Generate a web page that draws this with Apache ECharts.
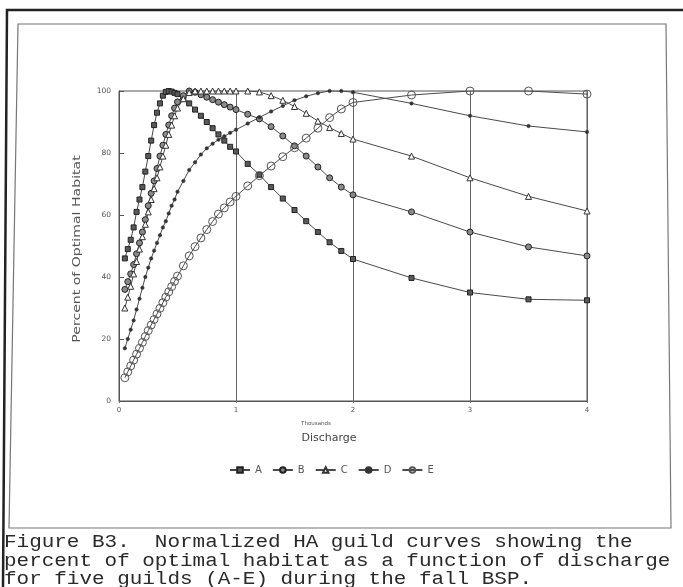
<!DOCTYPE html>
<html>
<head>
<meta charset="utf-8">
<title>Figure B3</title>
<script src="https://cdn.jsdelivr.net/npm/echarts@6/dist/echarts.min.js"></script>
<style>
  html, body { margin: 0; padding: 0; background: #ffffff; }
  #chart { width: 683px; height: 587px; }
</style>
</head>
<body>
<div id="chart"></div>
<script>
// Discharge (thousands of cfs) at which each guild curve was evaluated
const discharge = [
  0.05, 0.075, 0.1, 0.125, 0.15, 0.175, 0.2, 0.225, 0.25, 0.275,
  0.3, 0.325, 0.35, 0.375, 0.4, 0.425, 0.45, 0.475, 0.5,
  0.55, 0.6, 0.65, 0.7, 0.75, 0.8, 0.85, 0.9, 0.95, 1.0,
  1.1, 1.2, 1.3, 1.4, 1.5, 1.6, 1.7, 1.8, 1.9, 2.0,
  2.5, 3.0, 3.5, 4.0
];

// Percent of optimal habitat for each guild
const guildA = [
  46, 49, 52, 56, 61, 65, 69, 74, 79, 84,
  89, 93, 96, 98.5, 99.7, 100, 99.8, 99.4, 99,
  97.5, 96, 94, 92, 90, 88, 86, 84, 82, 80.5,
  76.5, 73, 69, 65.3, 61.6, 58, 54.5, 51.2, 48.4, 45.8,
  39.7, 35, 32.8, 32.5
];
const guildB = [
  36, 38.5, 41, 44, 47.5, 51, 54.5, 58.5, 63, 67,
  71, 75, 79, 82.5, 86, 89, 92, 94.5, 96.5,
  98.5, 100, 99.6, 98.8, 98, 97.2, 96.4, 95.6, 94.8, 94,
  92.5, 91, 88.5, 85.5, 82.3, 79, 75.5, 72, 69, 66.5,
  61, 54.5, 49.7, 46.8
];
const guildC = [
  30, 33.5, 37, 41, 45, 49, 53, 57, 61, 65,
  68.5, 72, 75.5, 79, 82.5, 86, 89, 92, 94.5,
  97.5, 99.5, 100, 100, 100, 100, 100, 100, 100, 100,
  100, 99.7, 98.5, 97, 95, 92.8, 90.3, 88.2, 86.3, 84.5,
  79, 72, 66, 61.3
];
const guildD = [
  17, 20, 23, 26, 29.5, 33, 36.5, 40, 43, 46,
  48.5, 51, 53.5, 56, 58, 60.5, 63, 65, 67.5,
  71, 74.5, 77, 79.5, 81.5, 83, 84.3, 85.4, 86.5, 87.5,
  89.5, 91.5, 93.4, 95.2, 97, 98.3, 99.3, 100, 100, 99.6,
  96, 92, 88.7, 86.8
];
const guildE = [
  7.5, 9.4, 11.3, 13.2, 15.1, 17, 18.9, 20.8, 22.7, 24.5,
  26.3, 28.1, 29.9, 31.7, 33.5, 35.2, 36.9, 38.6, 40.3,
  43.6, 46.8, 49.8, 52.6, 55.3, 57.9, 60.3, 62.3, 64.2, 66,
  69.4, 72.7, 75.8, 78.8, 81.7, 84.8, 88, 91.4, 94.2, 96.3,
  98.7, 100, 100, 99
];

const guildNames = ['A', 'B', 'C', 'D', 'E'];
const xTicks = [0, 1, 2, 3, 4];
const yTicks = [0, 20, 40, 60, 80, 100];

const captionLines = [
  'Figure B3.  Normalized HA guild curves showing the',
  'percent of optimal habitat as a function of discharge',
  'for five guilds (A-E) during the fall BSP.'
];

function pairs(values) {
  return discharge.map((d, i) => [d, values[i]]);
}

const lineColor = '#4a4a4a';
const markerStyles = {
  A: { symbol: 'rect', symbolSize: 5, itemStyle: { color: '#5a5a5a', borderColor: '#222', borderWidth: 1 } },
  B: { symbol: 'circle', symbolSize: 6, itemStyle: { color: '#8a8a8a', borderColor: '#222', borderWidth: 1 } },
  C: { symbol: 'triangle', symbolSize: 6, itemStyle: { color: '#ffffff', borderColor: '#333', borderWidth: 1 } },
  D: { symbol: 'circle', symbolSize: 3.5, itemStyle: { color: '#333', borderColor: '#333', borderWidth: 0.5 } },
  E: { symbol: 'circle', symbolSize: 8, itemStyle: { color: 'rgba(255,255,255,0)', borderColor: '#555', borderWidth: 1 } }
};
const seriesValues = { A: guildA, B: guildB, C: guildC, D: guildD, E: guildE };

const series = guildNames.map(name => Object.assign({
  name: name,
  type: 'line',
  data: pairs(seriesValues[name]),
  showAllSymbol: true,
  lineStyle: { color: lineColor, width: 1 },
  emphasis: { disabled: true },
  animation: false,
  z: 3
}, markerStyles[name]));

const captionFont = 18;
const captionScale = 12.57 / (captionFont * 0.6);

const chart = echarts.init(document.getElementById('chart'), null, { renderer: 'canvas' });

chart.setOption({
  backgroundColor: '#ffffff',
  animation: false,
  grid: {
    left: 119, right: 96, top: 91, bottom: 186,
    show: true, borderColor: '#555', borderWidth: 1, backgroundColor: 'transparent'
  },
  xAxis: {
    type: 'value', min: 0, max: 4, interval: 1,
    axisLine: { show: true, lineStyle: { color: '#555', width: 1 } },
    axisTick: { show: true, inside: false, length: 2, lineStyle: { color: '#777' } },
    axisLabel: {
      show: true, fontSize: 7, color: '#555', fontFamily: 'DejaVu Sans', margin: 6,
      formatter: v => xTicks.includes(v) ? String(v) : ''
    },
    splitLine: { show: true, lineStyle: { color: '#666', width: 1 } }
  },
  yAxis: {
    type: 'value', min: 0, max: 100, interval: 20,
    axisLine: { show: true, lineStyle: { color: '#555', width: 1 } },
    axisTick: { show: true, inside: true, length: 5, lineStyle: { color: '#555' } },
    axisLabel: {
      show: true, fontSize: 7.5, color: '#555', fontFamily: 'DejaVu Sans', margin: 8,
      formatter: v => yTicks.includes(v) ? String(v) : ''
    },
    splitLine: { show: false }
  },
  legend: {
    data: guildNames,
    left: 224, top: 460,
    itemWidth: 20, itemHeight: 7, itemGap: 10,
    textStyle: { fontSize: 10, color: '#555', fontFamily: 'DejaVu Sans' },
    selectedMode: false
  },
  graphic: [
    // outer border of the figure panel
    { type: 'polyline', shape: { points: [[3, 587], [7, 10], [683, 10]] }, style: { fill: 'none', stroke: '#222', lineWidth: 2.5 }, silent: true },
    // inner frame around the plot
    { type: 'polygon', shape: { points: [[18, 24], [666, 24], [671, 528], [9, 528]] }, style: { fill: 'none', stroke: '#777', lineWidth: 1.2 }, silent: true },
    // axis titles
    { type: 'text', x: 77, y: 249, rotation: Math.PI / 2, scaleX: 1.28, style: { text: 'Percent of Optimal Habitat', fontSize: 11, fill: '#555', fontFamily: 'DejaVu Sans', align: 'center', verticalAlign: 'middle' } },
    { type: 'text', x: 316, y: 424, style: { text: 'Thousands', fontSize: 5.5, fill: '#555', fontFamily: 'DejaVu Sans', align: 'center', verticalAlign: 'middle' } },
    { type: 'text', x: 329, y: 438, style: { text: 'Discharge', fontSize: 11, fill: '#444', fontFamily: 'DejaVu Sans', align: 'center', verticalAlign: 'middle' } },
    // caption
    { type: 'text', x: 4, y: 542, scaleX: captionScale, style: { text: captionLines[0], fontSize: captionFont, fill: '#2a2a2a', fontFamily: 'Liberation Mono', verticalAlign: 'middle' } },
    { type: 'text', x: 4, y: 561, scaleX: captionScale, style: { text: captionLines[1], fontSize: captionFont, fill: '#2a2a2a', fontFamily: 'Liberation Mono', verticalAlign: 'middle' } },
    { type: 'text', x: 4, y: 579, scaleX: captionScale, style: { text: captionLines[2], fontSize: captionFont, fill: '#2a2a2a', fontFamily: 'Liberation Mono', verticalAlign: 'middle' } }
  ],
  series: series
});
</script>
</body>
</html>
